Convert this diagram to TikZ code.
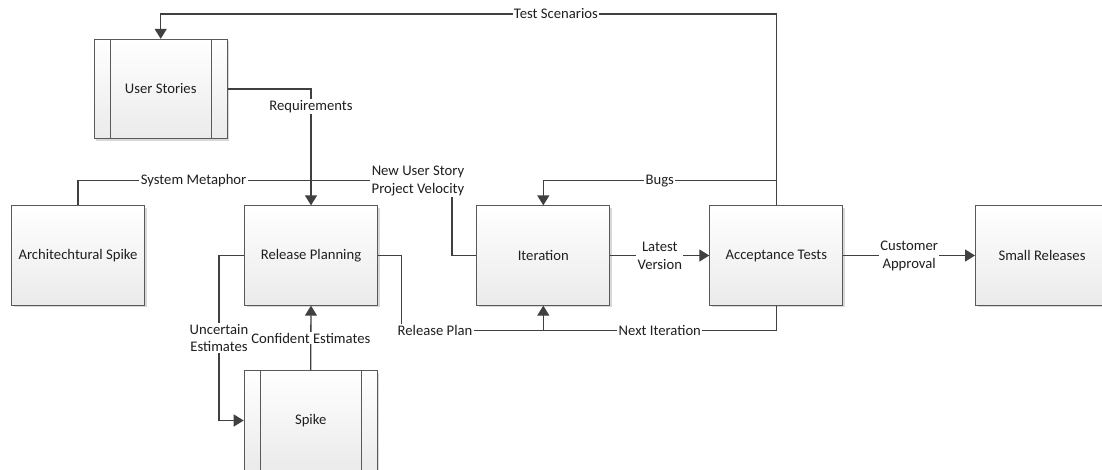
\documentclass[tikz,border=0pt]{standalone}
\usepackage{fontspec}
\setmainfont{Carlito}
\usetikzlibrary{arrows.meta,shadows}
\begin{document}
\begin{tikzpicture}[x=0.75pt,y=-0.75pt,
  font=\fontsize{11pt}{13.4pt}\selectfont,
  proc/.style={rectangle, draw=black!65, line width=0.75pt,
    top color=white, bottom color=black!8,
    minimum width=99.75pt, minimum height=74.5pt, inner sep=0pt,
    text=black!88,
    drop shadow={shadow xshift=1.5pt, shadow yshift=-1.5pt, fill=black!25, opacity=0.6}},
  subline/.style={draw=black!65, line width=0.75pt},
  conn/.style={draw=black!75, line width=1pt},
  arr/.style={conn, -{Triangle[length=7.5pt,width=9pt]}},
  lbl/.style={fill=white, inner sep=1pt, text=black!88, align=center}]

\useasboundingbox (0,0) rectangle (1102,469);
\fill[white] (0,0) rectangle (1102,469);

% process boxes
\node[proc] (US) at (160.7,89)    {User Stories};
\node[proc] (AS) at (78,255.5)    {Architechtural Spike};
\node[proc] (RP) at (311,255.5)   {Release Planning};
\node[proc] (SP) at (310.7,420.5) {Spike};
\node[proc] (IT) at (543.3,255.5) {Iteration};
\node[proc] (AT) at (776.3,255.5) {Acceptance Tests};
\node[proc] (SR) at (1042,255.5)  {Small Releases};

% side bars of the predefined-process boxes
\foreach \n in {US,SP}{
  \draw[subline] ([xshift=12.3pt]\n.north west) -- ([xshift=12.3pt]\n.south west);
  \draw[subline] ([xshift=-12.3pt]\n.north east) -- ([xshift=-12.3pt]\n.south east);
}

% routing levels
\coordinate (topy) at (0,14);
\coordinate (smy)  at (452,180.7);
\coordinate (ux)   at (219,0);
\coordinate (rpx)  at (401.7,330.7);

% connectors
\draw[arr] (AT.north) -- (AT.north |- topy)
  -- node[lbl,pos=0.358]{Test Scenarios} (US.north |- topy) -- (US.north);
\draw[arr] (US.east) -- (US.east -| RP.north)
  -- node[lbl,pos=0.152]{Requirements} (RP.north);
\draw[conn] (AS.north) -- (AS.north |- smy)
  -- node[lbl,pos=0.309]{System Metaphor}
     node[lbl,pos=0.909]{New User Story\\Project Velocity} (smy)
  -- (smy |- IT.west) -- (IT.west);
\draw[arr] (SP.north) -- node[lbl]{Confident Estimates} (RP.south);
\draw[arr] (RP.west) -- (RP.west -| ux)
  -- node[lbl,pos=0.5]{Uncertain\\Estimates} (SP.west -| ux) -- (SP.west);
\draw[arr] (RP.east) -- (RP.east -| rpx) -- (rpx)
  -- node[lbl,pos=0.235]{Release Plan} (rpx -| IT.south) -- (IT.south);
\draw[conn] (AT.south) -- (AT.south |- rpx)
  -- node[lbl]{Next Iteration} (rpx -| IT.south);
\draw[arr] (IT.east) -- node[lbl]{Latest\\Version} (AT.west);
\draw[arr] (AT.north) -- (AT.north |- smy)
  -- node[lbl]{Bugs} (smy -| IT.north) -- (IT.north);
\draw[arr] (AT.east) -- node[lbl]{Customer\\Approval} (SR.west);

\end{tikzpicture}
\end{document}
